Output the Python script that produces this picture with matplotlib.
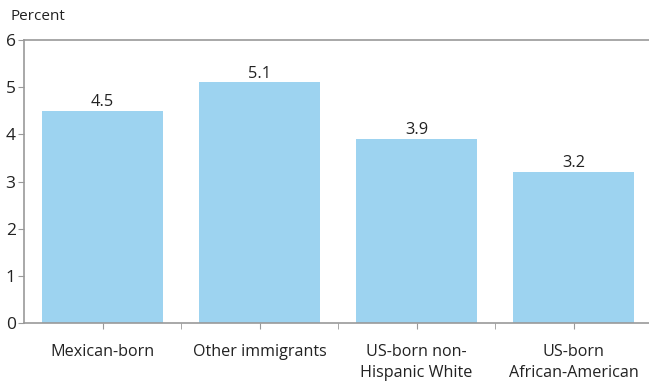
import numpy as np
import matplotlib.pyplot as plt

plt.rcParams['font.family'] = ['Open Sans', 'DejaVu Sans']

categories = ['Mexican-born', 'Other immigrants', 'US-born non-\nHispanic White', 'US-born\nAfrican-American']
values = [4.5, 5.1, 3.9, 3.2]
yticks = [0, 1, 2, 3, 4, 5, 6]

bar_color = '#9dd3f0'
spine_color = '#999999'
text_color = '#222222'

fig = plt.figure(figsize=(6.49, 3.81), dpi=100)
ax = fig.add_axes([24/649, 58/381, 625/649, 283/381])

x = np.arange(len(categories))
ax.bar(x, values, width=0.77, color=bar_color, zorder=2)
for xi, v in zip(x, values):
    ax.text(xi, v + 0.02, f'{v:.1f}', ha='center', va='bottom', fontsize=11.8, color=text_color)

ax.set_xlim(-0.5, -0.5 + 625/157)
ax.set_ylim(0, 6)
ax.set_yticks(yticks)
ax.set_yticklabels([str(t) for t in yticks], fontsize=12.5, color=text_color)

# ticks at category centres and between them
ax.set_xticks(x)
ax.set_xticklabels(categories, fontsize=11.6, color=text_color, linespacing=1.45)
ax.set_xticks(np.arange(0.5, len(categories) - 0.5, 1), minor=True)
ax.tick_params(axis='x', which='both', direction='out', length=4, color=spine_color, pad=11)
ax.tick_params(axis='y', direction='out', length=4, color=spine_color, pad=2)

for s in ['left', 'bottom', 'top']:
    ax.spines[s].set_color(spine_color)
    ax.spines[s].set_linewidth(1.2)
ax.spines['right'].set_visible(False)

fig.text(10/649, 1 - 17/381, 'Percent', fontsize=11, color=text_color, va='center', ha='left')

fig.savefig('out.png', dpi=100)
